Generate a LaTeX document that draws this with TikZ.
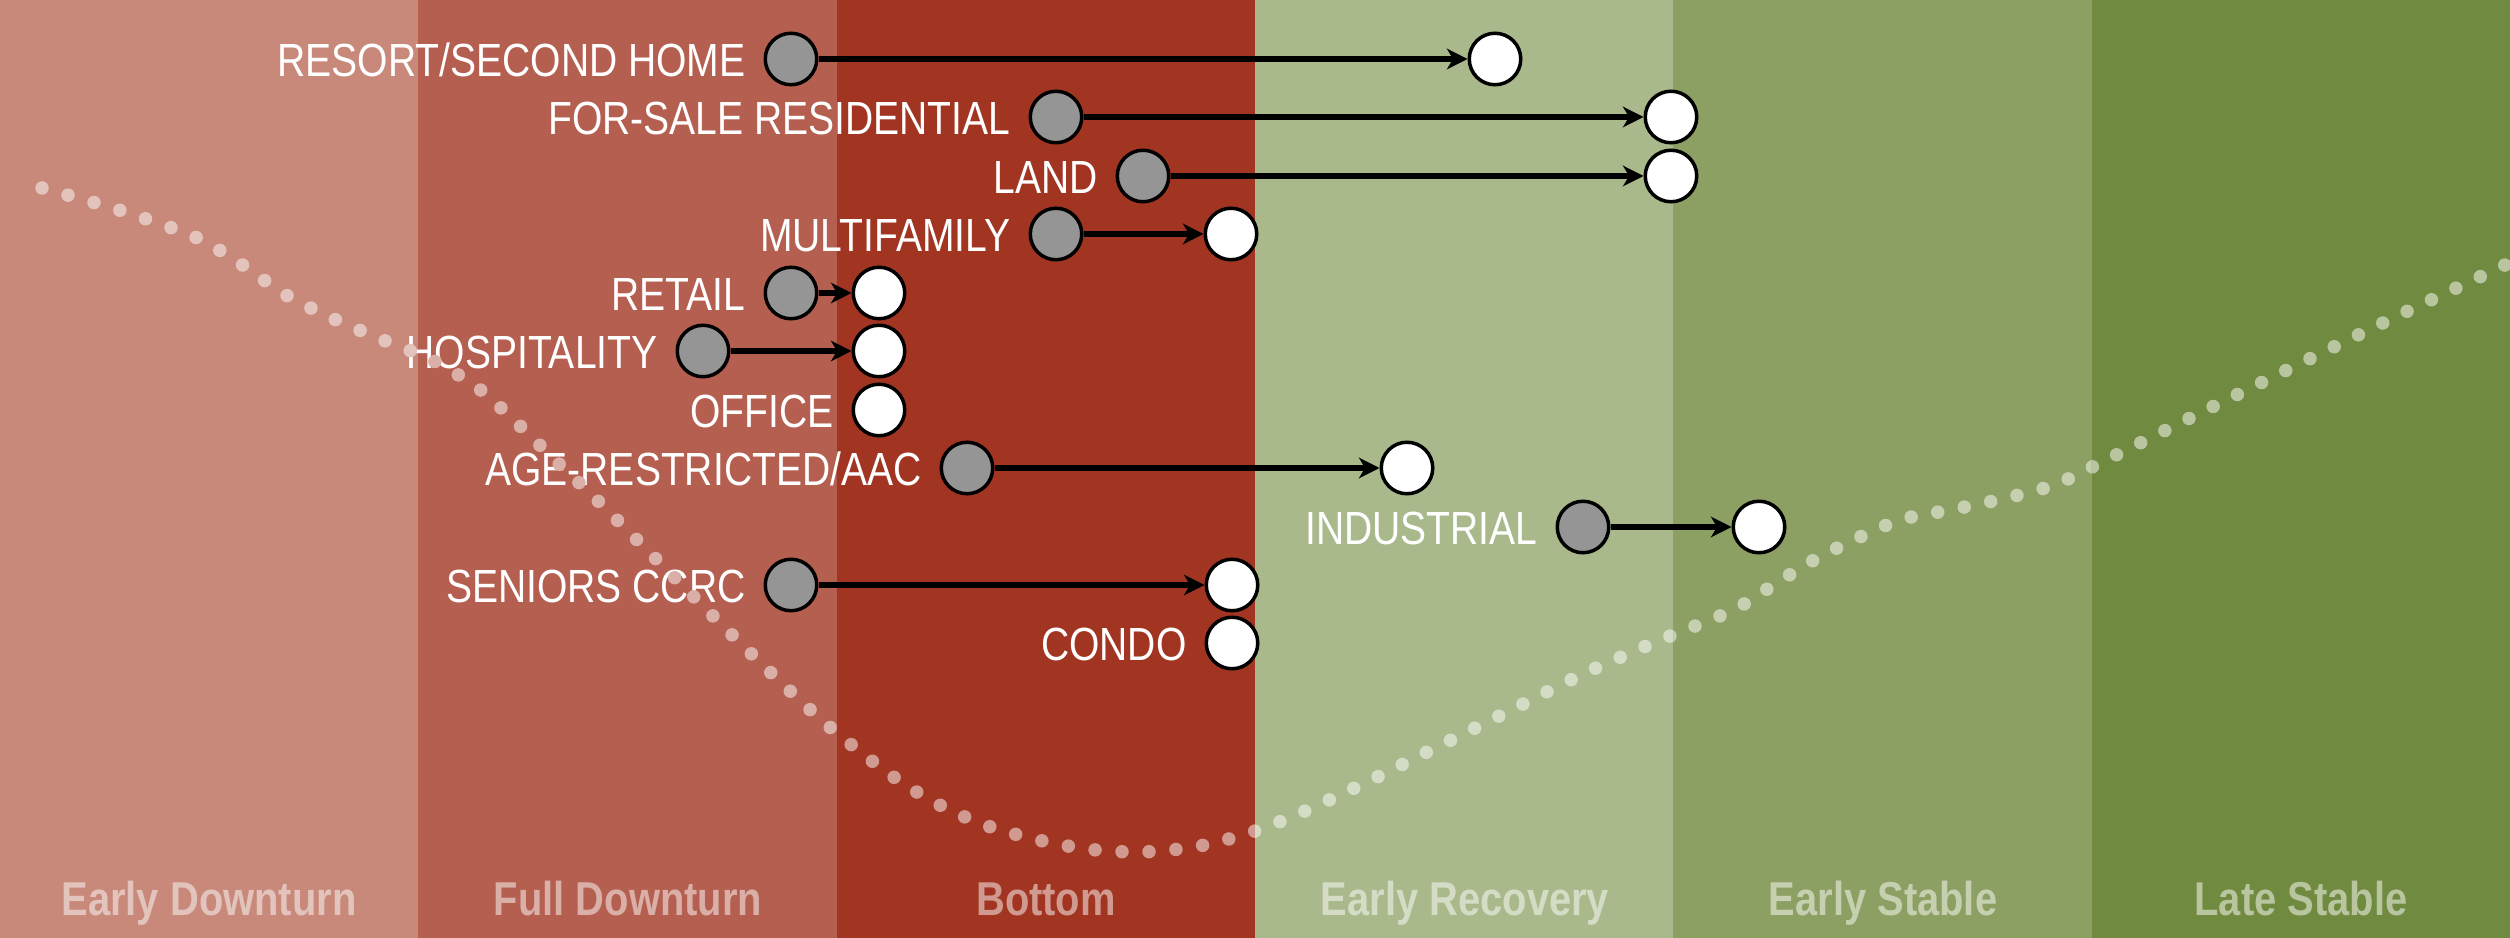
\documentclass[tikz,border=0pt]{standalone}
\usepackage{fontspec}
\setmainfont{Liberation Sans}
\newfontfamily\narrowfont[FakeStretch=0.84]{Liberation Sans}
\usetikzlibrary{arrows.meta}
\definecolor{bA}{HTML}{C8897B}
\definecolor{bB}{HTML}{B55F50}
\definecolor{bC}{HTML}{A13522}
\definecolor{bD}{HTML}{A9B98B}
\definecolor{bE}{HTML}{8DA063}
\definecolor{bF}{HTML}{708A40}
\definecolor{srcgray}{HTML}{959595}
\newcommand\dotcurve[1]{%
  \draw[dotline,#1] plot[smooth,tension=0.5] coordinates {(42,188) (119,210) (195,237) (241,264) (286,295) (334,319) (383,340) (432,360) (478,388) (518,424) (557,462) (595,498) (652,555) (709,612) (766,668) (825,723) (888,773) (934,802) (982,824) (1034,839) (1087,849) (1140,852) (1194,847) (1246,834) (1296,815) (1369,781) (1441,745) (1513,709) (1585,673) (1658,641) (1733,610) (1778,582) (1825,554) (1897,521) (1950,510) (2002,499) (2054,485) (2102,462) (2198,414) (2295,366) (2391,319) (2488,273) (2530,253)};}
\begin{document}
\begin{tikzpicture}[x=0.4pt,y=-0.4pt,
  src/.style={circle,draw=black,fill=srcgray,line width=1.4pt,minimum size=20.6pt,inner sep=0pt},
  dst/.style={circle,draw=black,fill=white,line width=1.4pt,minimum size=20.6pt,inner sep=0pt},
  lbl/.style={text=white,font=\narrowfont\fontsize{18.6}{20}\selectfont,inner sep=0pt,anchor=base east},
  phase/.style={font=\narrowfont\bfseries\fontsize{19}{21}\selectfont,inner sep=0pt,anchor=base},
  conn/.style={draw=black,line width=2.4pt,-{Stealth[length=8.2pt,width=8.2pt,inset=2.4pt]}},
  dotline/.style={line width=5.4pt,line cap=round,dash pattern=on 0pt off 10.8pt}]
\useasboundingbox (0,0) rectangle (2510,938);
% bands
\fill[bA] (0,0) rectangle (419,938);
\fill[bB] (418.3,0) rectangle (837,938);
\fill[bC] (836.7,0) rectangle (1255.5,938);
\fill[bD] (1255,0) rectangle (1674,938);
\fill[bE] (1673.3,0) rectangle (2092,938);
\fill[bF] (2091.7,0) rectangle (2510,938);
% phase labels
\node[phase,text=white!50!bA] (p1) at (209,915) {Early Downturn};
\node[phase,text=white!50!bB] (p2) at (628,915) {Full Downturn};
\node[phase,text=white!50!bC] (p3) at (1046,915) {Bottom};
\node[phase,text=white!50!bD] (p4) at (1465,915) {Early Recovery};
\node[phase,text=white!50!bE] (p5) at (1883,915) {Early Stable};
\node[phase,text=white!50!bF] (p6) at (2301,915) {Late Stable};
% circles
\node[src] (g1) at (791,59) {};   \node[dst] (w1) at (1495,59) {};
\node[src] (g2) at (1056,117) {}; \node[dst] (w2) at (1671,117) {};
\node[src] (g3) at (1143,176) {}; \node[dst] (w3) at (1671,176) {};
\node[src] (g4) at (1056,234) {}; \node[dst] (w4) at (1231,234) {};
\node[src] (g5) at (791,293) {};  \node[dst] (w5) at (879,293) {};
\node[src] (g6) at (703,351) {};  \node[dst] (w6) at (879,351) {};
                                   \node[dst] (w7) at (879,410) {};
\node[src] (g8) at (967,468) {};  \node[dst] (w8) at (1407,468) {};
\node[src] (g9) at (1583,527) {}; \node[dst] (w9) at (1759,527) {};
\node[src] (g10) at (791,585) {}; \node[dst] (w10) at (1232,585) {};
                                   \node[dst] (w11) at (1232,643) {};
% labels
\node[lbl] (l1) at ([xshift=-7pt,yshift=-7pt]g1.west) {RESORT/SECOND HOME};
\node[lbl] (l2) at ([xshift=-7pt,yshift=-7pt]g2.west) {FOR-SALE RESIDENTIAL};
\node[lbl] (l3) at ([xshift=-7pt,yshift=-7pt]g3.west) {LAND};
\node[lbl] (l4) at ([xshift=-7pt,yshift=-7pt]g4.west) {MULTIFAMILY};
\node[lbl] (l5) at ([xshift=-7pt,yshift=-7pt]g5.west) {RETAIL};
\node[lbl] (l6) at ([xshift=-7pt,yshift=-7pt]g6.west) {HOSPITALITY};
\node[lbl] (l7) at ([xshift=-7pt,yshift=-7pt]w7.west) {OFFICE};
\node[lbl] (l8) at ([xshift=-7pt,yshift=-7pt]g8.west) {AGE-RESTRICTED/AAC};
\node[lbl] (l9) at ([xshift=-7pt,yshift=-7pt]g9.west) {INDUSTRIAL};
\node[lbl] (l10) at ([xshift=-7pt,yshift=-7pt]g10.west) {SENIORS CCRC};
\node[lbl] (l11) at ([xshift=-7pt,yshift=-7pt]w11.west) {CONDO};
% connectors
\draw[conn] (g1) -- (w1);
\draw[conn] (g2) -- (w2);
\draw[conn] (g3) -- (w3);
\draw[conn] (g4) -- (w4);
\draw[conn] (g5) -- (w5);
\draw[conn] (g6) -- (w6);
\draw[conn] (g8) -- (w8);
\draw[conn] (g9) -- (w9);
\draw[conn] (g10) -- (w10);
% dotted cycle curve, tinted per band
\foreach \a/\b/\c in {0/418.33/bA,418.33/836.67/bB,836.67/1255/bC,1255/1673.33/bD,1673.33/2091.67/bE,2091.67/2510/bF}{%
  \begin{scope}
    \clip (\a,0) rectangle (\b,938);
    \dotcurve{white!50!\c}
  \end{scope}
}
\end{tikzpicture}
\end{document}
